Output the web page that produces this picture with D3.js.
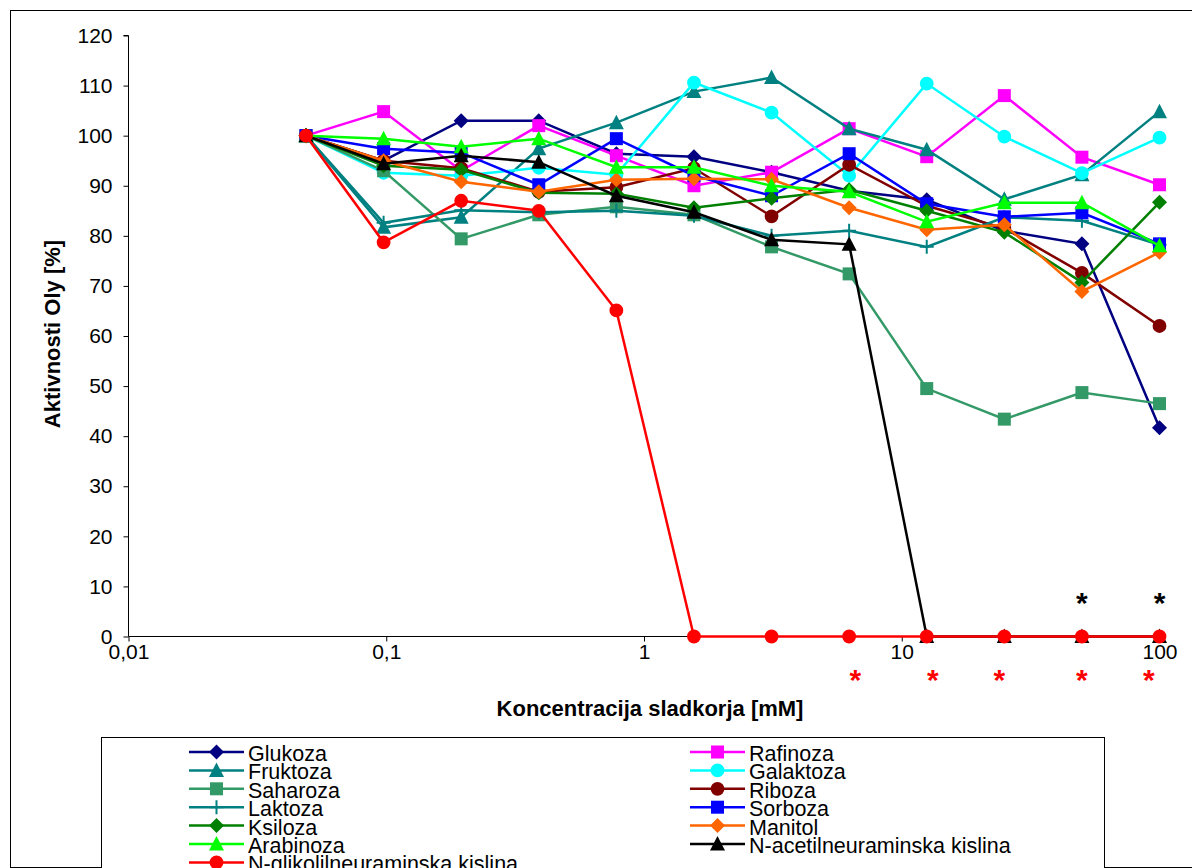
<!DOCTYPE html>
<html>
  <head>
    <meta charset="utf-8">
    <title>Aktivnosti Oly</title>
    <script src="https://cdn.jsdelivr.net/npm/d3@7"></script>
    <style>
      body { margin: 0; background: #fff; }
      svg { font-family: "Liberation Sans", Arial, sans-serif; }
    </style>
  </head>
  <body>
    <script>
      // Koncentracije [mM]
      const conc = [0.048828125, 0.09765625, 0.1953125, 0.390625, 0.78125, 1.5625, 3.125, 6.25, 12.5, 25, 50, 100];

      // Podatki za vsak sladkor
      const glukoza   = [100, 95, 103, 103, 96.4, 95.8, 92.7, 89, 87.2, 81, 78.4, 41.7];
      const rafinoza  = [100, 104.8, 93, 102, 96, 90, 92.7, 101.4, 95.8, 108, 95.7, 90.2];
      const fruktoza  = [100, 81.7, 83.7, 97.4, 102.6, 108.8, 111.6, 101.4, 97.2, 87.3, 92.2, 104.8];
      const galaktoza = [100, 92.6, 92, 93.6, 92.2, 110.6, 104.6, 92, 110.4, 99.8, 92.5, 99.6];
      const saharoza  = [100, 93, 79.4, 84.2, 85.8, 84.2, 77.8, 72.4, 49.5, 43.4, 48.7, 46.5];
      const riboza    = [100, 95, 93.5, 88.8, 89.7, 93.5, 83.9, 94.2, 86, 81.5, 72.6, 62];
      const laktoza   = [100, 82.6, 85.1, 84.7, 85, 84, 80, 81, 77.8, 83.7, 83, 78.2];
      const sorboza   = [100, 97.4, 96.6, 90.2, 99.4, 92, 88, 96.4, 86.4, 83.8, 84.6, 78.4];
      const ksiloza   = [100, 94, 93.2, 88.6, 88.4, 85.6, 87.5, 89.2, 85, 80.7, 70.7, 86.7];
      const manitol   = [100, 95, 90.8, 88.8, 91.2, 91.4, 91.3, 85.6, 81.2, 82.2, 68.9, 76.7];
      const arabinoza = [100, 99.4, 97.8, 99.4, 93.7, 93.7, 90, 88.8, 82.8, 86.6, 86.6, 78];
      const nAcetil   = [100, 94.4, 96, 94.7, 88, 84.7, 79.2, 78.3, 0, 0, 0, 0];
      const nGlikolil = [100, 78.7, 87, 85, 65.1, 0, 0, 0, 0, 0, 0, 0];

      const seriesNames = ["Glukoza", "Rafinoza", "Fruktoza", "Galaktoza", "Saharoza", "Riboza", "Laktoza",
        "Sorboza", "Ksiloza", "Manitol", "Arabinoza", "N-acetilneuraminska kislina", "N-glikolilneuraminska kislina"];
      const seriesValues = [glukoza, rafinoza, fruktoza, galaktoza, saharoza, riboza, laktoza,
        sorboza, ksiloza, manitol, arabinoza, nAcetil, nGlikolil];
      const seriesColors = ["#000080", "#FF00FF", "#008080", "#00FFFF", "#339966", "#800000", "#008080",
        "#0000FF", "#008000", "#FF6600", "#00FF00", "#000000", "#FF0000"];
      const seriesMarkers = ["diamond", "square", "triangle", "circle", "square", "circle", "plus",
        "square", "diamond", "diamond", "triangle", "triangle", "circle"];

      // Oznake osi
      const yTicks = [0, 10, 20, 30, 40, 50, 60, 70, 80, 90, 100, 110, 120];
      const xTicks = [0.01, 0.1, 1, 10, 100];
      const xTickLabels = ["0,01", "0,1", "1", "10", "100"];

      // Zvezdice (statistična značilnost)
      const redStars = [6.6, 13.2, 23.9, 50, 91];
      const blackStars = [50, 100];

      const w = 1192;
      const h = 868;

      const xScale = d3.scaleLog().domain([0.01, 100]).range([128.5, 1159.5]);
      const yScale = d3.scaleLinear().domain([0, 120]).range([636.5, 35.5]);

      const svg = d3.select("body").append("svg")
        .attr("width", w)
        .attr("height", h);

      // Okvir grafa
      svg.append("rect")
        .attr("x", 10.5).attr("y", 10.5)
        .attr("width", w + 20).attr("height", h - 11)
        .attr("fill", "none").attr("stroke", "#000").attr("stroke-width", 1);

      // Y-os
      const yAxis = d3.axisLeft(yScale).tickValues(yTicks).tickSize(5).tickPadding(11);
      const gy = svg.append("g")
        .attr("transform", "translate(" + 128.5 + ",0)")
        .call(yAxis);
      gy.selectAll("text").style("font-size", "21px").attr("fill", "#000");
      gy.select(".domain").attr("d", "M-5," + yScale(120) + "H0V" + yScale(0));

      // X-os
      const xAxis = d3.axisBottom(xScale).tickValues(xTicks)
        .tickFormat(function (d, i) { return xTickLabels[i]; })
        .tickSize(5).tickPadding(3);
      const gx = svg.append("g")
        .attr("transform", "translate(0," + yScale(0) + ")")
        .call(xAxis);
      gx.selectAll("text").style("font-size", "21px").attr("fill", "#000");
      gx.select(".domain").attr("d", "M" + xScale(0.01) + ",0H" + xScale(100));

      // Naslova osi
      svg.append("text")
        .attr("x", 650).attr("y", 716)
        .attr("text-anchor", "middle")
        .style("font-size", "22px").style("font-weight", "bold")
        .text("Koncentracija sladkorja [mM]");
      svg.append("text")
        .attr("transform", "translate(60,334) rotate(-90)")
        .attr("text-anchor", "middle")
        .style("font-size", "22px").style("font-weight", "bold")
        .text("Aktivnosti Oly [%]");

      // Oblike markerjev
      function markerPath(type) {
        if (type === "diamond") return "M0,-7.5L7.5,0L0,7.5L-7.5,0Z";
        if (type === "square") return "M-6.5,-6.5H6.5V6.5H-6.5Z";
        if (type === "triangle") return "M0,-8L7.5,6.5H-7.5Z";
        if (type === "circle") return d3.symbol(d3.symbolCircle, 150)();
        if (type === "plus") return "M-7,0H7M0,-7V7";
        return "";
      }

      const line = d3.line()
        .x(function (d, i) { return xScale(conc[i]); })
        .y(function (d) { return yScale(d); });

      // Črte in markerji za vsako serijo
      seriesValues.forEach(function (vals, s) {
        const g = svg.append("g");
        g.append("path")
          .datum(vals)
          .attr("d", line)
          .attr("fill", "none")
          .attr("stroke", seriesColors[s])
          .attr("stroke-width", 2.5);
        g.selectAll("path.m")
          .data(vals)
          .enter()
          .append("path")
          .attr("class", "m")
          .attr("transform", function (d, i) { return "translate(" + xScale(conc[i]) + "," + yScale(d) + ")"; })
          .attr("d", markerPath(seriesMarkers[s]))
          .attr("fill", seriesMarkers[s] === "plus" ? "none" : seriesColors[s])
          .attr("stroke", seriesColors[s])
          .attr("stroke-width", seriesMarkers[s] === "plus" ? 2 : 0);
      });

      // Zvezdice
      svg.selectAll("text.rs")
        .data(redStars)
        .enter()
        .append("text")
        .attr("class", "rs")
        .attr("x", function (d) { return xScale(d); })
        .attr("y", 690)
        .attr("text-anchor", "middle")
        .attr("fill", "#FF0000")
        .style("font-size", "30px").style("font-weight", "bold")
        .text("*");
      svg.selectAll("text.bs")
        .data(blackStars)
        .enter()
        .append("text")
        .attr("class", "bs")
        .attr("x", function (d) { return xScale(d); })
        .attr("y", 613)
        .attr("text-anchor", "middle")
        .attr("fill", "#000")
        .style("font-size", "30px").style("font-weight", "bold")
        .text("*");

      // Legenda
      svg.append("rect")
        .attr("x", 101.5).attr("y", 737.5)
        .attr("width", 1003).attr("height", 140)
        .attr("fill", "#fff").attr("stroke", "#000").attr("stroke-width", 1);

      const legend = svg.append("g");
      seriesNames.forEach(function (name, s) {
        const col = s % 2;
        const row = Math.floor(s / 2);
        const lx = col === 0 ? 189 : 690;
        const ly = 752 + row * 18.4;
        const item = legend.append("g").attr("transform", "translate(" + lx + "," + ly + ")");
        item.append("line")
          .attr("x1", 0).attr("x2", 55).attr("y1", 0).attr("y2", 0)
          .attr("stroke", seriesColors[s]).attr("stroke-width", 2.5);
        item.append("path")
          .attr("transform", "translate(27.5,0)")
          .attr("d", markerPath(seriesMarkers[s]))
          .attr("fill", seriesMarkers[s] === "plus" ? "none" : seriesColors[s])
          .attr("stroke", seriesColors[s])
          .attr("stroke-width", seriesMarkers[s] === "plus" ? 2 : 0);
        item.append("text")
          .attr("x", 59).attr("y", 9)
          .style("font-size", "21.5px")
          .text(name);
      });
    </script>
  </body>
</html>
